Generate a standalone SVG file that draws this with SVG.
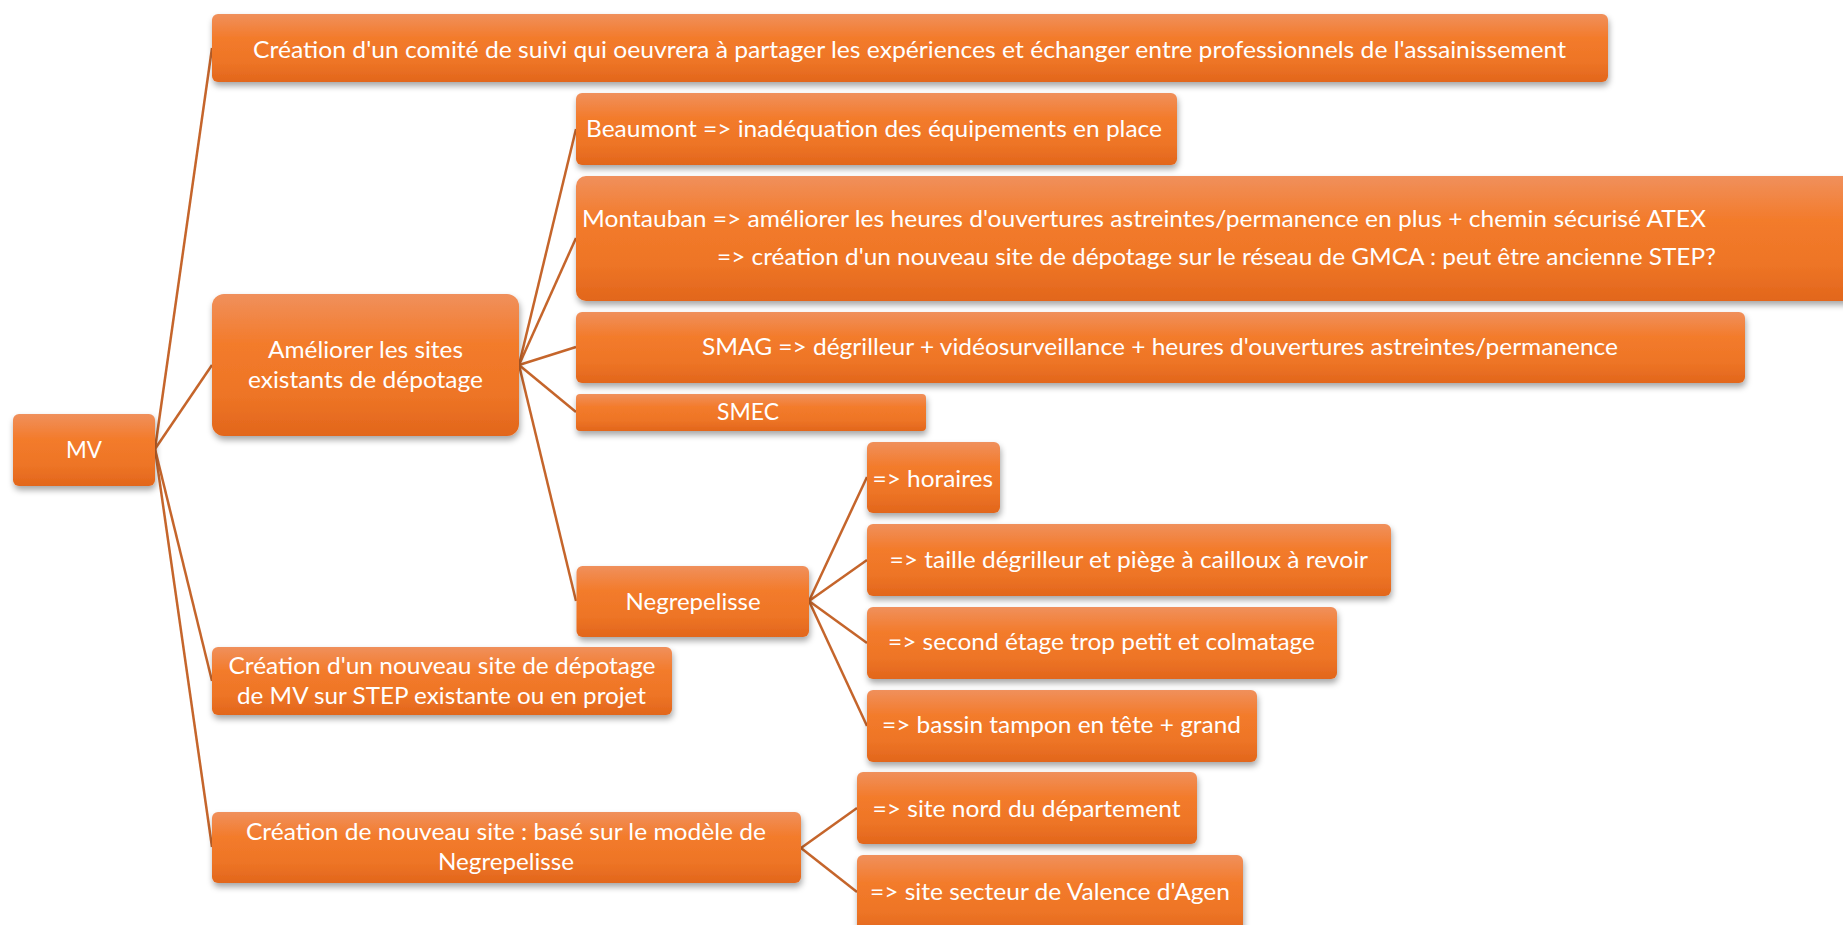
<svg xmlns="http://www.w3.org/2000/svg" width="1843" height="925" viewBox="0 0 1843 925">
<defs>
<linearGradient id="g" x1="0" y1="0" x2="0" y2="1">
<stop offset="0" stop-color="#F0905C"/>
<stop offset="0.35" stop-color="#F37B2B"/>
<stop offset="0.7" stop-color="#EE7526"/>
<stop offset="1" stop-color="#E2661C"/>
</linearGradient>
<filter id="sh" x="-5%" y="-20%" width="110%" height="150%">
<feDropShadow dx="1" dy="4" stdDeviation="3" flood-color="#000" flood-opacity="0.35"/>
</filter>
</defs>
<style>
.n rect{fill:url(#g);filter:url(#sh)}
.n text{font-family:Lato,"Open Sans","Liberation Sans",sans-serif;font-size:24px;fill:#FFFFFF}
.c line{stroke:#C5652B;stroke-width:2.5}
</style>
<rect width="1843" height="925" fill="#FFFFFF"/>
<g id="connectors" class="c">
<line x1="155" y1="449" x2="212" y2="48"/>
<line x1="155" y1="449" x2="212" y2="365"/>
<line x1="155" y1="449" x2="212" y2="681"/>
<line x1="155" y1="449" x2="212" y2="847"/>
<line x1="519" y1="365" x2="576" y2="129"/>
<line x1="519" y1="365" x2="576" y2="238"/>
<line x1="519" y1="365" x2="576" y2="347"/>
<line x1="519" y1="365" x2="576" y2="412"/>
<line x1="519" y1="365" x2="576" y2="601"/>
<line x1="809" y1="601" x2="867" y2="477"/>
<line x1="809" y1="601" x2="867" y2="560"/>
<line x1="809" y1="601" x2="867" y2="643"/>
<line x1="809" y1="601" x2="867" y2="726"/>
<line x1="801" y1="848" x2="857" y2="808"/>
<line x1="801" y1="848" x2="857" y2="892"/>
</g>
<g id="node-mv" class="n"><rect x="13" y="414" width="142" height="72" rx="6"/><text x="66" y="458" textLength="36" lengthAdjust="spacingAndGlyphs">MV</text></g>
<g id="node-comite" class="n"><rect x="212" y="14" width="1396" height="68" rx="6"/><text x="253" y="58" textLength="1313" lengthAdjust="spacingAndGlyphs">Création d'un comité de suivi qui oeuvrera à partager les expériences et échanger entre professionnels de l'assainissement</text></g>
<g id="node-ameliorer" class="n"><rect x="212" y="294" width="307" height="142" rx="12"/><text x="268" y="358" textLength="195" lengthAdjust="spacingAndGlyphs">Améliorer les sites</text><text x="248" y="388" textLength="235" lengthAdjust="spacingAndGlyphs">existants de dépotage</text></g>
<g id="node-depotage" class="n"><rect x="212" y="647" width="460" height="68" rx="6"/><text x="228.5" y="674" textLength="427" lengthAdjust="spacingAndGlyphs">Création d'un nouveau site de dépotage</text><text x="237" y="704" textLength="409" lengthAdjust="spacingAndGlyphs">de MV sur STEP existante ou en projet</text></g>
<g id="node-nouveau" class="n"><rect x="212" y="812" width="589" height="71" rx="6"/><text x="246" y="840" textLength="520" lengthAdjust="spacingAndGlyphs">Création de nouveau site : basé sur le modèle de</text><text x="438" y="870" textLength="136" lengthAdjust="spacingAndGlyphs">Negrepelisse</text></g>
<g id="node-beaumont" class="n"><rect x="576" y="93" width="601" height="72" rx="6"/><text x="586" y="137" textLength="576" lengthAdjust="spacingAndGlyphs">Beaumont =&gt; inadéquation des équipements en place</text></g>
<g id="node-montauban" class="n"><rect x="576" y="176" width="1290" height="125" rx="10"/><text x="582" y="227" textLength="1124" lengthAdjust="spacingAndGlyphs">Montauban =&gt; améliorer les heures d'ouvertures astreintes/permanence en plus + chemin sécurisé ATEX</text><text x="717" y="265" textLength="999" lengthAdjust="spacingAndGlyphs">=&gt; création d'un nouveau site de dépotage sur le réseau de GMCA : peut être ancienne STEP?</text></g>
<g id="node-smag" class="n"><rect x="576" y="312" width="1169" height="71" rx="6"/><text x="702" y="355" textLength="916" lengthAdjust="spacingAndGlyphs">SMAG =&gt; dégrilleur + vidéosurveillance + heures d'ouvertures astreintes/permanence</text></g>
<g id="node-smec" class="n"><rect x="576" y="394" width="350" height="37" rx="4"/><text x="717" y="420" textLength="62" lengthAdjust="spacingAndGlyphs">SMEC</text></g>
<g id="node-negrepelisse" class="n"><rect x="576.5" y="566" width="232.5" height="71" rx="6"/><text x="625.6" y="610" textLength="135" lengthAdjust="spacingAndGlyphs">Negrepelisse</text></g>
<g id="node-horaires" class="n"><rect x="867" y="442" width="133" height="71" rx="6"/><text x="872.5" y="487" textLength="120.5" lengthAdjust="spacingAndGlyphs">=&gt; horaires</text></g>
<g id="node-taille" class="n"><rect x="867" y="524" width="524" height="72" rx="6"/><text x="889.5" y="568" textLength="478.5" lengthAdjust="spacingAndGlyphs">=&gt; taille dégrilleur et piège à cailloux à revoir</text></g>
<g id="node-second" class="n"><rect x="867" y="607" width="470" height="72" rx="6"/><text x="888" y="650" textLength="427" lengthAdjust="spacingAndGlyphs">=&gt; second étage trop petit et colmatage</text></g>
<g id="node-bassin" class="n"><rect x="867" y="690" width="390" height="72" rx="6"/><text x="882" y="733" textLength="359" lengthAdjust="spacingAndGlyphs">=&gt; bassin tampon en tête + grand</text></g>
<g id="node-nord" class="n"><rect x="857" y="772" width="340" height="72" rx="6"/><text x="872.5" y="817" textLength="308" lengthAdjust="spacingAndGlyphs">=&gt; site nord du département</text></g>
<g id="node-valence" class="n"><rect x="857" y="855" width="386" height="80" rx="6"/><text x="870" y="900" textLength="360" lengthAdjust="spacingAndGlyphs">=&gt; site secteur de Valence d'Agen</text></g>
</svg>
